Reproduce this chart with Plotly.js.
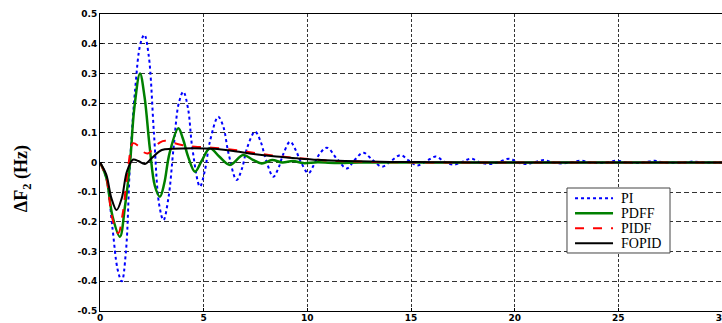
<!DOCTYPE html>
<html>
<head>
<meta charset="utf-8">
<script src="https://cdn.plot.ly/plotly-3.0.1.min.js"></script>
<style>html,body{margin:0;padding:0;background:#fff;}#chart{width:722px;height:323px;}</style>
</head>
<body>
<div id="chart"></div>
<script>
// Time (s) and frequency deviation ΔF2 (Hz)
const piT = [0,0.3,0.6,0.85,1.05,1.25,1.45,1.7,1.95,2.14,2.35,2.6,2.85,3.06,3.3,3.55,3.8,4.02,4.25,4.45,4.82,5.05,5.3,5.7,5.95,6.2,6.59,6.85,7.1,7.48,7.75,8.0,8.36,8.6,8.85,9.17,9.45,9.7,10.05,10.3,10.6,10.95,11.45,11.9,12.3,12.7,13.15,13.6,14.05,14.5,14.9,15.3,15.75,16.2,16.6,17.05,17.5,17.9,18.35,18.8,19.25,19.75,20.15,20.6,21.0,21.4,21.85,22.3,22.75,23.2,23.65,24.1,24.5,24.95,25.4,25.85,26.3,26.75,27.2,27.7,28.2,28.6,29.1,29.5,30];
const piV = [0,-0.05,-0.22,-0.36,-0.40,-0.30,0.0,0.25,0.40,0.43,0.36,0.10,-0.14,-0.194,-0.12,0.05,0.20,0.238,0.18,0.05,-0.081,-0.03,0.07,0.154,0.12,0.03,-0.059,-0.02,0.05,0.104,0.07,0.01,-0.048,-0.02,0.03,0.07,0.04,0.0,-0.036,-0.01,0.03,0.05,0.01,-0.02,0.01,0.033,0.008,-0.014,0.006,0.025,0.006,-0.01,0.005,0.02,0.003,-0.007,0.003,0.013,0.0,-0.005,0.002,0.013,0.0,-0.005,0.002,0.008,0.0,-0.003,0.001,0.006,0.0,-0.002,0.001,0.006,0.0,-0.002,0.001,0.006,0.0,-0.001,0.0,0.003,0.0,0.0,0.0];

const pdffT = [0,0.3,0.6,0.96,1.2,1.45,1.65,1.93,2.15,2.4,2.65,2.89,3.1,3.35,3.78,4.0,4.25,4.58,4.9,5.3,5.75,6.27,6.9,7.35,7.8,8.3,8.8,9.3,9.8,10.5,11.5,12.5,14,16,18,20,22,25,30];
const pdffV = [0,-0.05,-0.18,-0.25,-0.15,0.0,0.18,0.30,0.22,0.05,-0.08,-0.115,-0.07,0.03,0.115,0.08,0.02,-0.031,0.005,0.048,0.02,-0.008,0.025,0.01,-0.003,0.008,0.0,0.005,-0.002,0.001,-0.002,0.0,0.0,0.0,0.0,0.0,0.0,0.0,0.0];

const pidfT = [0,0.3,0.6,0.88,1.1,1.35,1.6,1.85,2.1,2.33,2.6,2.9,3.14,3.6,4.0,4.58,5.4,6.5,7.5,8.5,9.5,10.5,11.5,12.5,14,16,19,22,25,30];
const pidfV = [0,-0.05,-0.19,-0.238,-0.17,-0.02,0.065,0.055,0.035,0.031,0.05,0.068,0.073,0.065,0.058,0.053,0.05,0.042,0.032,0.022,0.015,0.009,0.005,0.003,0.001,0.0,0.0,0.0,0.0,0.0];

const fopidT = [0,0.3,0.55,0.8,1.05,1.3,1.6,1.85,2.17,2.5,2.98,3.5,4.5,5.5,6.5,7.5,8.5,9.5,10.5,11.5,12.5,14,16,18,22,26,30];
const fopidV = [0,-0.04,-0.12,-0.16,-0.12,-0.03,0.01,0.005,-0.005,0.015,0.042,0.046,0.048,0.046,0.038,0.028,0.02,0.014,0.009,0.006,0.004,0.002,0.001,0.0,0.0,0.0,0.0];

const names = ['PI','PDFF','PIDF','FOPID'];
const colors = ['#0000ff','#008000','#ff0000','#000000'];
const widths = [2,2.5,2,2];
const dashes = ['dot','solid','dash','solid'];
const xTicks = [0,5,10,15,20,25,30];
const yTicks = [-0.5,-0.4,-0.3,-0.2,-0.1,0,0.1,0.2,0.3,0.4,0.5];
const yTickText = ['-0.5','-0.4','-0.3','-0.2','-0.1','0','0.1','0.2','0.3','0.4','0.5'];

const series = [[piT,piV],[pdffT,pdffV],[pidfT,pidfV],[fopidT,fopidV]];
const traces = series.map((s,i)=>({x:s[0], y:s[1], name:names[i], mode:'lines',
  line:{color:colors[i], width:widths[i], dash:dashes[i], shape:'spline'}}));

// Legend box drawn in paper coordinates (compact, MATLAB style)
const legX0 = 0.7508, legX1 = 0.9164, legY0 = 0.1953, legY1 = 0.4141;
const legRowY = [0.3795, 0.3290, 0.2785, 0.2279];
const shapes = [{type:'rect', xref:'paper', yref:'paper', x0:legX0, x1:legX1, y0:legY0, y1:legY1,
                 fillcolor:'#fff', line:{color:'#444', width:1}, layer:'above'}];
const annotations = [{text:'ΔF<sub>2</sub> (Hz)', xref:'paper', yref:'paper', x:-0.1254, y:0.444, xanchor:'center', yanchor:'middle',
                textangle:-90, showarrow:false, font:{family:'Liberation Serif', size:18, color:'#000', weight:'bold'}}];
names.forEach((n,i)=>{
  shapes.push({type:'line', xref:'paper', yref:'paper', x0:0.7637, x1:0.8248, y0:legRowY[i], y1:legRowY[i],
               line:{color:colors[i], width:widths[i], dash:dashes[i]}, layer:'above'});
  annotations.push({text:n, xref:'paper', yref:'paper', x:0.8344, y:legRowY[i], xanchor:'left', yanchor:'middle',
               showarrow:false, font:{family:'Liberation Serif', size:14, color:'#000'}});
});

const tickFont = {family:'DejaVu Sans', size:9, color:'#000', weight:'bold'};
const layout = {
  width:722, height:323,
  margin:{l:100, r:0, t:14, b:12},
  paper_bgcolor:'#fff', plot_bgcolor:'#fff',
  showlegend:false,
  xaxis:{range:[0,30], tickvals:xTicks, ticktext:xTicks.map(String), showline:true, mirror:true, linecolor:'#000', linewidth:1,
         showgrid:true, gridcolor:'#333', gridwidth:1, griddash:'3px,2px', zeroline:false,
         ticks:'inside', ticklen:3, tickcolor:'#000', tickfont:tickFont, ticklabelstandoff:-2, ticklabeloverflow:'allow'},
  yaxis:{range:[-0.5,0.5], tickvals:yTicks, ticktext:yTickText, showline:true, mirror:true, linecolor:'#000', linewidth:1,
         showgrid:true, gridcolor:'#333', gridwidth:1, griddash:'5px,3px', zeroline:false,
         ticks:'inside', ticklen:3, tickcolor:'#000', tickfont:tickFont},
  shapes: shapes,
  annotations: annotations
};
Plotly.newPlot('chart', traces, layout, {displayModeBar:false, staticPlot:true});
</script>
</body>
</html>
